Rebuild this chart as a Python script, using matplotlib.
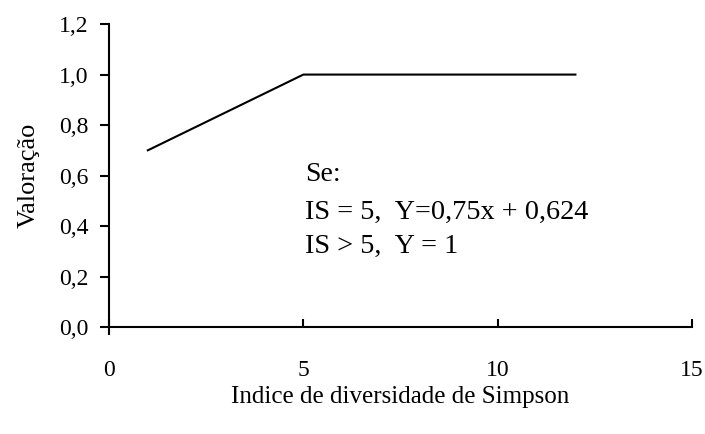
import matplotlib.pyplot as plt

# Valoração em função do índice de Simpson
x_vals = [1, 5, 12]
y_vals = [0.7, 1.0, 1.0]
x_ticks = [0, 5, 10, 15]
y_ticks = [0.0, 0.2, 0.4, 0.6, 0.8, 1.0, 1.2]

plt.rcParams['font.family'] = ['Liberation Serif', 'DejaVu Serif']

fig = plt.figure(figsize=(7.05, 4.34), dpi=100)
ax = fig.add_axes([0.1546, 0.2465, 0.827, 0.698])

ax.plot(x_vals, y_vals, color='black', linewidth=1.5)

ax.set_xlim(0, 15)
ax.set_ylim(0, 1.2)
ax.set_xticks(x_ticks)
ax.set_yticks(y_ticks)
ax.set_xticklabels([str(t) for t in x_ticks])
ax.set_yticklabels([f'{t:.1f}'.replace('.', ',') for t in y_ticks])

ax.spines['top'].set_visible(False)
ax.spines['right'].set_visible(False)
for s in ('left', 'bottom'):
    ax.spines[s].set_linewidth(1.5)

ax.tick_params(axis='x', direction='in', length=6, width=1.5, pad=23.5, labelsize=17)
ax.tick_params(axis='y', direction='out', length=6.5, width=1.5, pad=8, labelsize=17)
# the tick at the origin crosses the axis
t0 = ax.xaxis.get_major_ticks()[0]
t0.tick1line.set_marker('|')
t0.tick1line.set_markersize(12)

ax.set_xlabel('Indice de diversidade de Simpson', fontsize=18, labelpad=4)
ax.set_ylabel('Valoração', fontsize=19, labelpad=14)

ax.text(5.05, 0.606, 'Se:', fontsize=20, va='center')
ax.text(5.05, 0.455, 'IS = 5,  Y=0,75x + 0,624', fontsize=20.3, va='center')
ax.text(5.05, 0.321, 'IS > 5,  Y = 1', fontsize=20.3, va='center')

fig.savefig('out.png', dpi=100)
